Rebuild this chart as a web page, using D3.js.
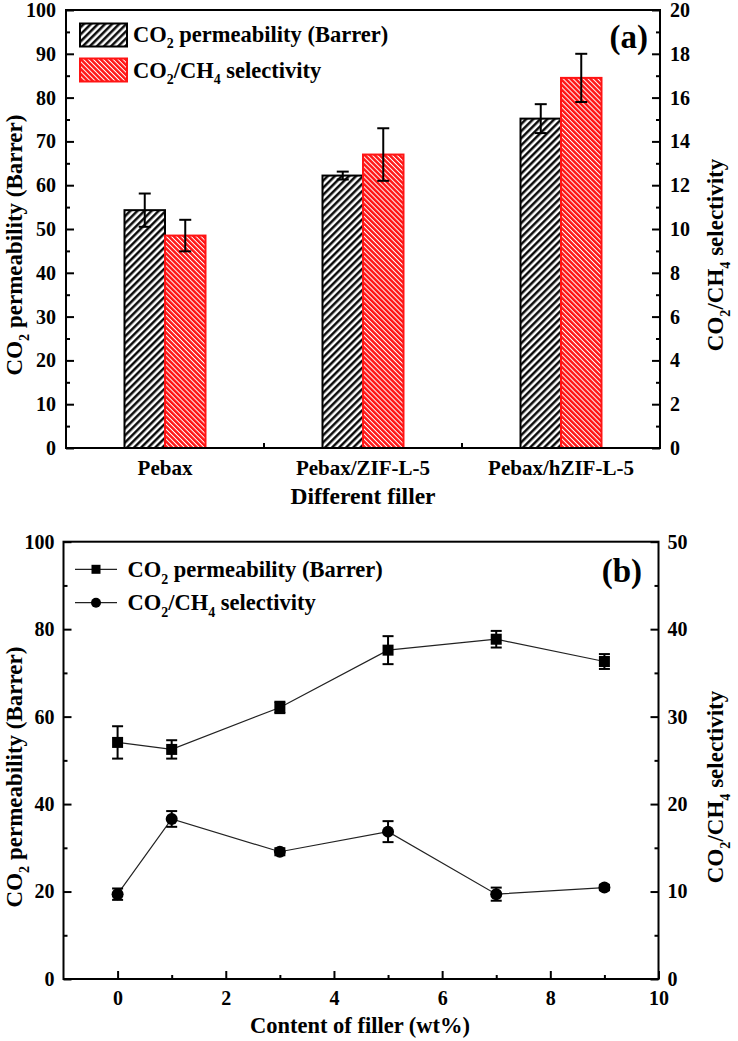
<!DOCTYPE html>
<html><head><meta charset="utf-8">
<script src="https://cdn.jsdelivr.net/npm/d3@7"></script>
<style>
html,body{margin:0;padding:0;background:#fff;}
text{font-family:"Liberation Serif","Times New Roman",serif;font-weight:bold;fill:#000;}
</style></head>
<body><svg id="c" width="738" height="1041"></svg>
<script>
// ---- data ----
const categories = ["Pebax", "Pebax/ZIF-L-5", "Pebax/hZIF-L-5"];
const permA = [54.3, 62.2, 75.2];
const permAErr = [3.8, 0.9, 3.3];
const selA = [9.7, 13.4, 16.9];
const selAErr = [0.72, 1.2, 1.1];

const content = [0, 1, 3, 5, 7, 9];
const permB = [54.1, 52.5, 62.1, 75.2, 77.7, 72.6];
const permBErr = [3.7, 2.1, 1.3, 3.2, 1.9, 1.7];
const selB = [9.7, 18.3, 14.55, 16.85, 9.7, 10.45];
const selBErr = [0.65, 0.9, 0.4, 1.2, 0.75, 0.3];

const leftTicksA = d3.range(0, 101, 10), leftMinorA = d3.range(5, 100, 10);
const rightTicksA = d3.range(0, 21, 2), rightMinorA = d3.range(1, 20, 2);
const leftTicksB = d3.range(0, 101, 20), leftMinorB = d3.range(10, 100, 20);
const rightTicksB = d3.range(0, 51, 10), rightMinorB = d3.range(5, 50, 10);
const xTicksB = d3.range(0, 11, 2), xMinorB = [1, 3, 5, 7, 9];

const svg = d3.select("#c");
const defs = svg.append("defs");
// hatch patterns
const pB = defs.append("pattern").attr("id","hatchBlack").attr("patternUnits","userSpaceOnUse")
  .attr("width",5).attr("height",5).attr("patternTransform","rotate(45)");
pB.append("rect").attr("width",5).attr("height",5).attr("fill","#fff");
pB.append("line").attr("x1",1.3).attr("y1",0).attr("x2",1.3).attr("y2",5).attr("stroke","#000").attr("stroke-width",2.4);
const pR = defs.append("pattern").attr("id","hatchRed").attr("patternUnits","userSpaceOnUse")
  .attr("width",3.5).attr("height",3.5).attr("patternTransform","rotate(-45)");
pR.append("rect").attr("width",3.5).attr("height",3.5).attr("fill","#fff");
pR.append("line").attr("x1",1.25).attr("y1",0).attr("x2",1.25).attr("y2",3.5).attr("stroke","#ff1414").attr("stroke-width",2.5);

function rich(g, parts, fs) {
  const t = g.append("text").attr("font-size", fs);
  let shifted = false;
  parts.forEach(p => {
    const ts = t.append("tspan").text(p[0]);
    if (p[1] === "sub") {
      ts.attr("font-size", fs*0.62).attr("dy", fs*0.3);
      shifted = true;
    } else if (shifted) {
      ts.attr("dy", -fs*0.3);
      shifted = false;
    }
  });
  return t;
}
const permLabel = [["CO"],["2","sub"],[" permeability (Barrer)"]];
const selLabel = [["CO"],["2","sub"],["/CH"],["4","sub"],[" selectivity"]];

function styleAxis(g) {
  g.select(".domain").remove();
  g.selectAll(".tick line").attr("stroke","#000").attr("stroke-width",2);
  g.selectAll(".tick text").attr("font-size",20).style("font-family",'"Liberation Serif","Times New Roman",serif').style("font-weight","bold");
}

// ================= Panel (a) =================
const A = {l:66, r:660, t:10, b:448};
const x0 = d3.scaleBand().domain(categories).range([A.l, A.r]).padding(0);
const yA = d3.scaleLinear().domain([0,100]).range([A.b, A.t]);
const yA2 = d3.scaleLinear().domain([0,20]).range([A.b, A.t]);
const barW = 40.5;

const gA = svg.append("g");
categories.forEach((c,i) => {
  const cx = x0(c) + x0.bandwidth()/2;
  gA.append("rect").attr("x", cx - barW).attr("y", yA(permA[i])).attr("width", barW)
    .attr("height", yA(0) - yA(permA[i])).attr("fill","url(#hatchBlack)").attr("stroke","#000").attr("stroke-width",2);
  gA.append("rect").attr("x", cx).attr("y", yA2(selA[i])).attr("width", barW)
    .attr("height", yA2(0) - yA2(selA[i])).attr("fill","url(#hatchRed)").attr("stroke","#ff1414").attr("stroke-width",2);
  const eb = (x, y, lo, hi) => {
    gA.append("line").attr("x1",x).attr("x2",x).attr("y1",y(lo)).attr("y2",y(hi)).attr("stroke","#000").attr("stroke-width",2);
    [lo,hi].forEach(v => gA.append("line").attr("x1",x-6).attr("x2",x+6).attr("y1",y(v)).attr("y2",y(v)).attr("stroke","#000").attr("stroke-width",2));
  };
  eb(cx - barW/2, yA, permA[i]-permAErr[i], permA[i]+permAErr[i]);
  eb(cx + barW/2, yA2, selA[i]-selAErr[i], selA[i]+selAErr[i]);
});
gA.append("g").attr("transform",`translate(${A.l},0)`).call(d3.axisLeft(yA).tickValues(leftTicksA).tickSize(-8).tickPadding(10)).call(styleAxis);
gA.append("g").attr("transform",`translate(${A.l},0)`).call(d3.axisLeft(yA).tickValues(leftMinorA).tickSize(-4).tickFormat("")).call(styleAxis);
gA.append("g").attr("transform",`translate(${A.r},0)`).call(d3.axisRight(yA2).tickValues(rightTicksA).tickSize(-8).tickPadding(10)).call(styleAxis);
gA.append("g").attr("transform",`translate(${A.r},0)`).call(d3.axisRight(yA2).tickValues(rightMinorA).tickSize(-4).tickFormat("")).call(styleAxis);
const xAxA = gA.append("g").attr("transform",`translate(0,${A.b})`).call(d3.axisBottom(x0).tickSize(0).tickPadding(12)).call(styleAxis);
xAxA.selectAll(".tick text").attr("font-size",21);
categories.slice(1).forEach(c => {
  gA.append("line").attr("x1",x0(c)).attr("x2",x0(c)).attr("y1",A.b).attr("y2",A.b-5).attr("stroke","#000").attr("stroke-width",2);
});
gA.append("rect").attr("x",A.l).attr("y",A.t).attr("width",A.r-A.l).attr("height",A.b-A.t).attr("fill","none").attr("stroke","#000").attr("stroke-width",2);
gA.append("text").attr("x",363).attr("y",504).attr("text-anchor","middle").attr("font-size",23.5).text("Different filler");
rich(gA, permLabel, 23).attr("text-anchor","middle").attr("transform","translate(22,245) rotate(-90)");
rich(gA, selLabel, 23).attr("text-anchor","middle").attr("transform","translate(723,255) rotate(-90)");
gA.append("text").attr("x",648).attr("y",48).attr("text-anchor","end").attr("font-size",33).text("(a)");
gA.append("rect").attr("x",80).attr("y",23.5).attr("width",47).attr("height",23).attr("fill","url(#hatchBlack)").attr("stroke","#000").attr("stroke-width",2);
gA.append("rect").attr("x",80).attr("y",58.5).attr("width",47).attr("height",23).attr("fill","url(#hatchRed)").attr("stroke","#ff1414").attr("stroke-width",2);
rich(gA, permLabel, 22.5).attr("x",133).attr("y",41.5);
rich(gA, selLabel, 22.5).attr("x",133).attr("y",77.5);

// ================= Panel (b) =================
const B = {l:63.5, r:658.5, t:541.7, b:979};
const xB = d3.scaleLinear().domain([-1,10]).range([B.l, B.r]);
const yB = d3.scaleLinear().domain([0,100]).range([B.b, B.t]);
const yB2 = d3.scaleLinear().domain([0,50]).range([B.b, B.t]);
const gB = svg.append("g");

const line1 = d3.line().x((d,i)=>xB(content[i])).y(d=>yB(d));
const line2 = d3.line().x((d,i)=>xB(content[i])).y(d=>yB2(d));
gB.append("path").attr("d",line1(permB)).attr("fill","none").attr("stroke","#222").attr("stroke-width",1.2);
gB.append("path").attr("d",line2(selB)).attr("fill","none").attr("stroke","#222").attr("stroke-width",1.2);
const ebB = (x, y, lo, hi) => {
  gB.append("line").attr("x1",x).attr("x2",x).attr("y1",y(lo)).attr("y2",y(hi)).attr("stroke","#000").attr("stroke-width",2);
  [lo,hi].forEach(v => gB.append("line").attr("x1",x-5.5).attr("x2",x+5.5).attr("y1",y(v)).attr("y2",y(v)).attr("stroke","#000").attr("stroke-width",2));
};
content.forEach((c,i) => {
  ebB(xB(c), yB, permB[i]-permBErr[i], permB[i]+permBErr[i]);
  ebB(xB(c), yB2, selB[i]-selBErr[i], selB[i]+selBErr[i]);
  gB.append("rect").attr("x",xB(c)-5.5).attr("y",yB(permB[i])-5.5).attr("width",11).attr("height",11).attr("fill","#000");
  gB.append("circle").attr("cx",xB(c)).attr("cy",yB2(selB[i])).attr("r",6).attr("fill","#000");
});
gB.append("g").attr("transform",`translate(${B.l},0)`).call(d3.axisLeft(yB).tickValues(leftTicksB).tickSize(-8).tickPadding(9)).call(styleAxis);
gB.append("g").attr("transform",`translate(${B.l},0)`).call(d3.axisLeft(yB).tickValues(leftMinorB).tickSize(-4).tickFormat("")).call(styleAxis);
gB.append("g").attr("transform",`translate(${B.r},0)`).call(d3.axisRight(yB2).tickValues(rightTicksB).tickSize(-8).tickPadding(9)).call(styleAxis);
gB.append("g").attr("transform",`translate(${B.r},0)`).call(d3.axisRight(yB2).tickValues(rightMinorB).tickSize(-4).tickFormat("")).call(styleAxis);
gB.append("g").attr("transform",`translate(0,${B.b})`).call(d3.axisBottom(xB).tickValues(xTicksB).tickSize(-8).tickPadding(12)).call(styleAxis);
gB.append("g").attr("transform",`translate(0,${B.b})`).call(d3.axisBottom(xB).tickValues(xMinorB).tickSize(-4).tickFormat("")).call(styleAxis);
gB.append("rect").attr("x",B.l).attr("y",B.t).attr("width",B.r-B.l).attr("height",B.b-B.t).attr("fill","none").attr("stroke","#000").attr("stroke-width",2);
gB.append("text").attr("x",360).attr("y",1033).attr("text-anchor","middle").attr("font-size",22.5).text("Content of filler (wt%)");
rich(gB, permLabel, 23).attr("text-anchor","middle").attr("transform","translate(22,777) rotate(-90)");
rich(gB, selLabel, 23).attr("text-anchor","middle").attr("transform","translate(723,787) rotate(-90)");
gB.append("text").attr("x",642).attr("y",582).attr("text-anchor","end").attr("font-size",33).text("(b)");
[[569.3,"sq",permLabel,577],[602.7,"ci",selLabel,610]].forEach(([y,m,lab,ty]) => {
  gB.append("line").attr("x1",75).attr("x2",117).attr("y1",y).attr("y2",y).attr("stroke","#222").attr("stroke-width",1.2);
  if (m==="sq") gB.append("rect").attr("x",91.5).attr("y",y-4.5).attr("width",9).attr("height",9).attr("fill","#000");
  else gB.append("circle").attr("cx",96).attr("cy",y).attr("r",5).attr("fill","#000");
  rich(gB, lab, 22.5).attr("x",127.5).attr("y",ty);
});
</script></body></html>
